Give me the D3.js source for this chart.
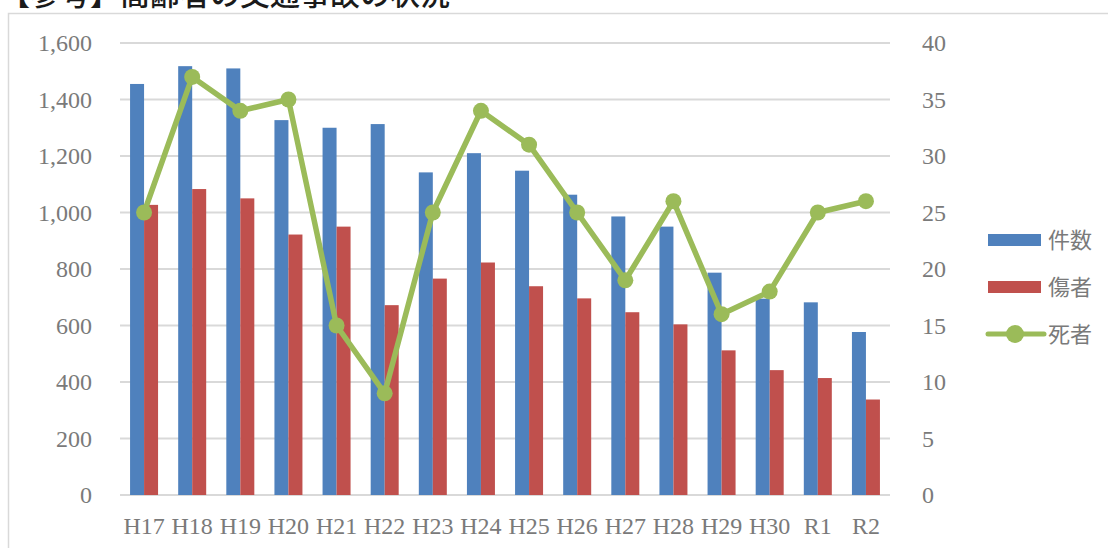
<!DOCTYPE html>
<html>
<head>
<meta charset="utf-8">
<script src="https://cdn.jsdelivr.net/npm/d3@7"></script>
<style>
  body { margin: 0; background: #fff; }
  svg { display: block; }
</style>
</head>
<body>
<svg width="1108" height="548"></svg>
<script>
// data
const categories = ["H17", "H18", "H19", "H20", "H21", "H22", "H23", "H24", "H25", "H26", "H27", "H28", "H29", "H30", "R1", "R2"];
const cases = [1455, 1518, 1510, 1327, 1300, 1313, 1142, 1210, 1148, 1063, 986, 950, 787, 695, 682, 577];
const injured = [1027, 1083, 1050, 922, 950, 672, 766, 823, 739, 696, 647, 604, 512, 442, 414, 338];
const deaths = [25, 37, 34, 35, 15, 9, 25, 34, 31, 25, 19, 26, 16, 18, 25, 26];
const leftTicks = [0, 200, 400, 600, 800, 1000, 1200, 1400, 1600];
const rightTicks = [0, 5, 10, 15, 20, 25, 30, 35, 40];
const seriesNames = ["件数", "傷者", "死者"];
const colors = { "件数": "#4f81bd", "傷者": "#c0504d", "死者": "#9bbb59" };

const svg = d3.select("svg");
const margin = { top: 43, right: 218, bottom: 53, left: 120 };
const W = +svg.attr("width"), H = +svg.attr("height");
const width = W - margin.left - margin.right;
const height = H - margin.top - margin.bottom;
const labelFont = "'Liberation Serif', 'DejaVu Serif', serif";
const textColor = "#7a7a7a";

// chart frame + title (title is cropped at the top in the reference)
svg.append("rect")
    .attr("x", 8.5).attr("y", 13.5)
    .attr("width", 1200).attr("height", 600)
    .attr("fill", "none").attr("stroke", "#d9d9d9").attr("stroke-width", 1.5);

svg.append("text")
    .attr("x", 0).attr("y", 5)
    .style("font-family", "'Noto Sans CJK JP', sans-serif")
    .style("font-size", "30px")
    .style("font-weight", 500)
    .attr("fill", "#1a1a1a")
    .text("【参考】高齢者の交通事故の状況");

const g = svg.append("g").attr("transform", `translate(${margin.left},${margin.top})`);

const x = d3.scaleBand().domain(categories).range([0, width]).padding(0);
const xs = d3.scaleBand().domain(["件数", "傷者"]).range([0, 28]);
const y = d3.scaleLinear().domain([0, 1600]).range([height, 0]);
const y2 = d3.scaleLinear().domain([0, 40]).range([height, 0]);

// gridlines
g.append("g")
    .selectAll("line")
    .data(leftTicks)
    .join("line")
    .attr("x1", 0).attr("x2", width)
    .attr("y1", d => y(d)).attr("y2", d => y(d))
    .attr("stroke", "#d9d9d9").attr("stroke-width", 2);

// left axis
const yAxis = g.append("g")
    .call(d3.axisLeft(y).tickValues(leftTicks).tickSize(0).tickPadding(28).tickFormat(d3.format(",")));
yAxis.select(".domain").remove();
yAxis.selectAll("text")
    .style("font-family", labelFont).style("font-size", "24px").attr("fill", textColor);

// right axis
const y2Axis = g.append("g")
    .attr("transform", `translate(${width},0)`)
    .call(d3.axisRight(y2).tickValues(rightTicks).tickSize(0).tickPadding(32));
y2Axis.select(".domain").remove();
y2Axis.selectAll("text")
    .style("font-family", labelFont).style("font-size", "24px").attr("fill", textColor);

// bottom axis
const xAxis = g.append("g")
    .attr("transform", `translate(0,${height})`)
    .call(d3.axisBottom(x).tickSize(0).tickPadding(22));
xAxis.select(".domain").remove();
xAxis.selectAll("text")
    .style("font-family", labelFont).style("font-size", "24px").attr("fill", textColor);

// bars
const barData = categories.map((c, i) => ({ cat: c, values: [
    { key: "件数", value: cases[i] },
    { key: "傷者", value: injured[i] }
]}));
const off = (x.bandwidth() - 28) / 2;
g.append("g")
    .selectAll("g")
    .data(barData)
    .join("g")
    .attr("transform", d => `translate(${x(d.cat) + off},0)`)
    .selectAll("rect")
    .data(d => d.values)
    .join("rect")
    .attr("x", d => xs(d.key))
    .attr("y", d => y(d.value))
    .attr("width", xs.bandwidth())
    .attr("height", d => height - y(d.value))
    .attr("fill", d => colors[d.key]);

// deaths line on right axis
const line = d3.line()
    .x((d, i) => x(categories[i]) + x.bandwidth() / 2)
    .y(d => y2(d));
g.append("path")
    .datum(deaths)
    .attr("d", line)
    .attr("fill", "none")
    .attr("stroke", colors["死者"])
    .attr("stroke-width", 5.5)
    .attr("stroke-linejoin", "round");
g.append("g")
    .selectAll("circle")
    .data(deaths)
    .join("circle")
    .attr("cx", (d, i) => x(categories[i]) + x.bandwidth() / 2)
    .attr("cy", d => y2(d))
    .attr("r", 8)
    .attr("fill", colors["死者"]);

// legend
const legend = svg.append("g").attr("transform", "translate(988,240)");
const item = legend.selectAll("g")
    .data(seriesNames)
    .join("g")
    .attr("transform", (d, i) => `translate(0,${i * 47})`);
item.filter(d => d !== "死者").append("rect")
    .attr("x", 0).attr("y", -6).attr("width", 53).attr("height", 12)
    .attr("fill", d => colors[d]);
item.filter(d => d === "死者").append("line")
    .attr("x1", 0).attr("x2", 56).attr("y1", 0).attr("y2", 0)
    .attr("stroke", d => colors[d]).attr("stroke-width", 5).attr("stroke-linecap", "round");
item.filter(d => d === "死者").append("circle")
    .attr("cx", 27).attr("cy", 0).attr("r", 9)
    .attr("fill", d => colors[d]);
item.append("text")
    .attr("x", 60).attr("y", 0).attr("dy", "0.35em")
    .style("font-family", "'Noto Sans CJK JP', sans-serif")
    .style("font-size", "22px")
    .attr("fill", textColor)
    .text(d => d);
</script>
</body>
</html>
